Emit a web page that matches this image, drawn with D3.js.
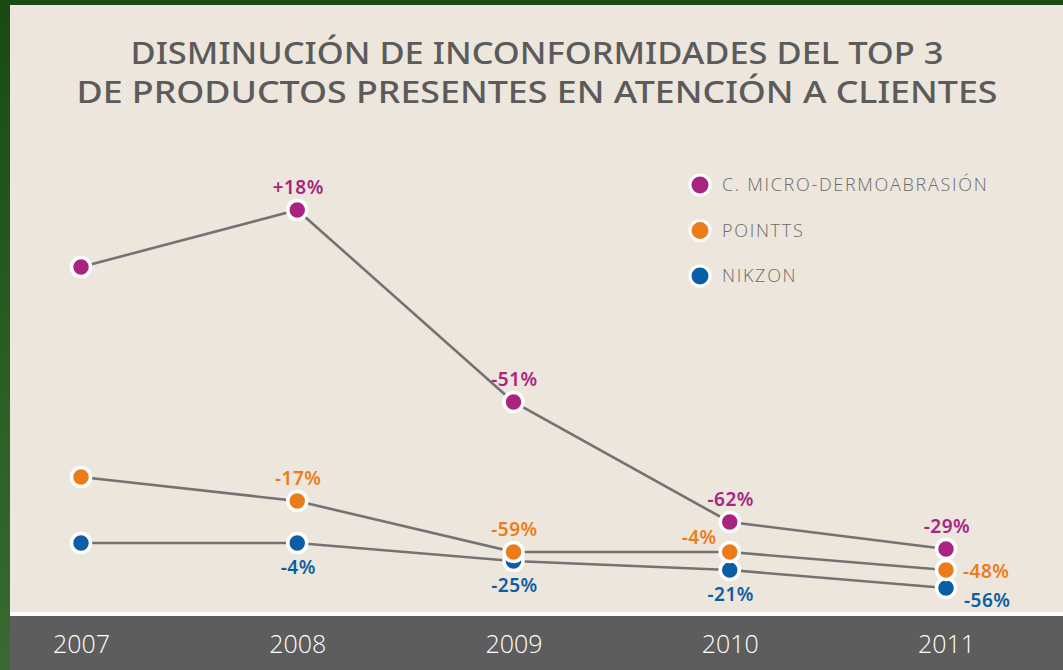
<!DOCTYPE html>
<html>
<head>
<meta charset="utf-8">
<script src="https://cdn.jsdelivr.net/npm/d3@7"></script>
<style>
  html, body { margin: 0; padding: 0; background: #1c4c17; }
  svg { display: block; }
</style>
</head>
<body>
<script>
// datos
const years = ["2007", "2008", "2009", "2010", "2011"];
const seriesNames = ["C. MICRO-DERMOABRASIÓN", "POINTTS", "NIKZON"];
const microValues = [115, 134, 70, 30, 21];
const pointtsValues = [45, 37, 20, 20, 14];
const nikzonValues = [23, 23, 17, 14, 8];
const microLabels = [null, "+18%", "-51%", "-62%", "-29%"];
const pointtsLabels = [null, "-17%", "-59%", "-4%", "-48%"];
const nikzonLabels = [null, "-4%", "-25%", "-21%", "-56%"];
// ubicación de etiquetas
const microPlace = [null, "above", "above", "above", "above"];
const pointtsPlace = [null, "above", "above", "left", "right"];
const nikzonPlace = [null, "below", "below", "below", "rightBelow"];

const colors = ["#a8247f", "#ec7c1a", "#0b5da5"];

const width = 1063;
const height = 670;

const svg = d3.select("body")
    .append("svg")
    .attr("width", width)
    .attr("height", height);

// fondo verde
const defs = svg.append("defs");
const grad = defs.append("linearGradient")
    .attr("id", "bg")
    .attr("x1", 0).attr("y1", 0).attr("x2", 0).attr("y2", 1);
grad.append("stop").attr("offset", "0%").attr("stop-color", "#1a4914");
grad.append("stop").attr("offset", "50%").attr("stop-color", "#285d22");
grad.append("stop").attr("offset", "100%").attr("stop-color", "#386a31");
svg.append("rect")
    .attr("width", width).attr("height", height)
    .attr("fill", "url(#bg)");

// panel beige
svg.append("rect")
    .attr("x", 10).attr("y", 5)
    .attr("width", width - 10).attr("height", 607)
    .attr("fill", "#ece6dd");
svg.append("rect")
    .attr("x", 10).attr("y", 612)
    .attr("width", width - 10).attr("height", 4)
    .attr("fill", "#ffffff");
svg.append("rect")
    .attr("x", 10).attr("y", 616)
    .attr("width", width - 10).attr("height", height - 616)
    .attr("fill", "#5d5d5d");

// título
const titleLines = [
    "DISMINUCIÓN DE INCONFORMIDADES DEL TOP 3",
    "DE PRODUCTOS PRESENTES EN ATENCIÓN A CLIENTES"
];
const titleWidths = [813, 921];
svg.selectAll(".title")
    .data(titleLines)
    .enter()
    .append("text")
    .attr("class", "title")
    .attr("x", (d, i) => 537 - titleWidths[i] / 2)
    .attr("y", (d, i) => 64 + i * 39)
    .attr("textLength", (d, i) => titleWidths[i])
    .attr("lengthAdjust", "spacingAndGlyphs")
    .style("font-family", "'Noto Sans', sans-serif")
    .style("font-weight", 500)
    .style("font-size", "31px")
    .style("fill", "#5b5b5b")
    .text(d => d);

// escalas
const x = d3.scalePoint()
    .domain(years)
    .range([81, 946]);
const y = d3.scaleLinear()
    .domain([0, 140])
    .range([612, 192]);

// eje de años
const xAxis = svg.append("g")
    .attr("transform", "translate(0, 653)")
    .call(d3.axisBottom(x).tickSize(0).tickPadding(0));
xAxis.select(".domain").remove();
xAxis.selectAll("text")
    .attr("dy", 0)
    .style("font-family", "'Open Sans', sans-serif")
    .style("font-weight", 300)
    .style("font-size", "25px")
    .style("fill", "#ffffff");

const series = [
    { name: seriesNames[0], values: microValues, labels: microLabels, place: microPlace, color: colors[0] },
    { name: seriesNames[1], values: pointtsValues, labels: pointtsLabels, place: pointtsPlace, color: colors[1] },
    { name: seriesNames[2], values: nikzonValues, labels: nikzonLabels, place: nikzonPlace, color: colors[2] }
];

const line = d3.line()
    .x((d, i) => x(years[i]))
    .y(d => y(d));

// líneas
svg.selectAll(".serie-line")
    .data(series)
    .enter()
    .append("path")
    .attr("class", "serie-line")
    .attr("d", d => line(d.values))
    .attr("fill", "none")
    .attr("stroke", "#737373")
    .attr("stroke-width", 2.6);

// puntos (dibujados de abajo hacia arriba)
series.slice().reverse().forEach(s => {
    svg.selectAll(null)
        .data(s.values)
        .enter()
        .append("circle")
        .attr("cx", (d, i) => x(years[i]))
        .attr("cy", d => y(d))
        .attr("r", 9.5)
        .attr("fill", s.color)
        .attr("stroke", "#ffffff")
        .attr("stroke-width", 3.5);
});

// etiquetas
const offsets = {
    above: { dx: 1, dy: -16, anchor: "middle" },
    below: { dx: 1, dy: 31, anchor: "middle" },
    left: { dx: -13, dy: -8, anchor: "end" },
    right: { dx: 17, dy: 8, anchor: "start" },
    rightBelow: { dx: 18, dy: 19, anchor: "start" }
};
series.forEach(s => {
    s.values.forEach((v, i) => {
        if (!s.labels[i]) return;
        const o = offsets[s.place[i]];
        svg.append("text")
            .attr("x", x(years[i]) + o.dx)
            .attr("y", y(v) + o.dy)
            .attr("text-anchor", o.anchor)
            .style("font-family", "'Noto Sans', sans-serif")
            .style("font-weight", 600)
            .style("font-size", "19px")
            .style("letter-spacing", "0.5px")
            .style("fill", s.color)
            .text(s.labels[i]);
    });
});

// leyenda
const legend = svg.selectAll(".legend")
    .data(series)
    .enter()
    .append("g")
    .attr("class", "legend")
    .attr("transform", (d, i) => `translate(700, ${185 + i * 45.5})`);
legend.append("circle")
    .attr("r", 10)
    .attr("fill", d => d.color)
    .attr("stroke", "#ffffff")
    .attr("stroke-width", 3);
legend.append("text")
    .attr("x", 22)
    .attr("y", 6)
    .style("font-family", "'Open Sans', sans-serif")
    .style("font-weight", 300)
    .style("font-size", "18px")
    .style("letter-spacing", "1.7px")
    .style("fill", "#6b6b6b")
    .text(d => d.name);
</script>
</body>
</html>
